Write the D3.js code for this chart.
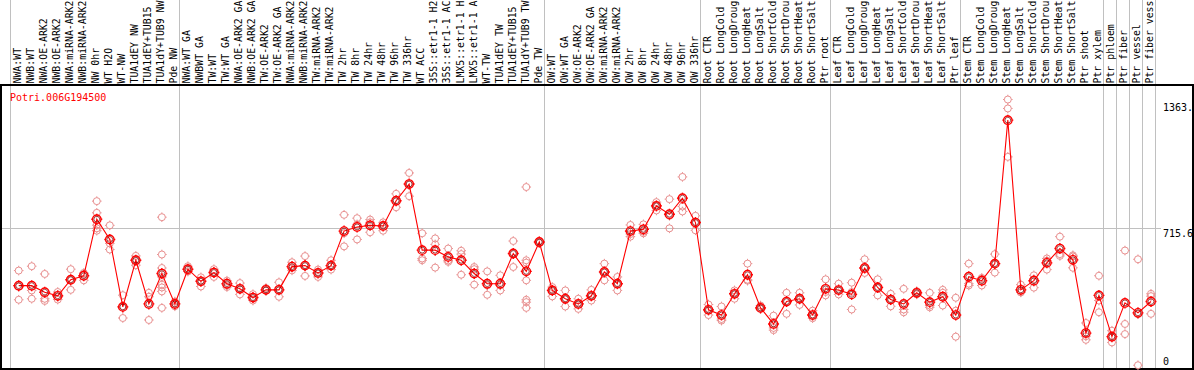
<!DOCTYPE html>
<html lang="en">
<head>
<meta charset="UTF-8">
<title>Potri.006G194500</title>
<script src="https://d3js.org/d3.v7.min.js"></script>
<style>
    body { margin: 0; background: #fff; }
    svg { display: block; }
    text { font-family: "DejaVu Sans Mono", monospace; font-size: 10px; }
    .lab { font-size: 9.85px; }
    .grid { stroke: #c0c0c0; stroke-width: 1px; shape-rendering: crispEdges; }
    .frame { fill: none; stroke: #000; stroke-width: 1.5px; shape-rendering: crispEdges; }
    .line { fill: none; stroke: #ff0000; stroke-width: 1.1px; }
    .rep { fill: none; stroke: #e89090; stroke-width: 1px; }
    .mean { fill: none; stroke: #ff0000; stroke-width: 1.4px; }
    .mean-in { fill: none; stroke: #7a0000; stroke-width: 0.7px; }
</style>
</head>
<body>
<div id="chart"></div>
<script>
// --- data ---
const samples = [
    "NWA:WT", "NWB:WT", "NWA:OE-ARK2", "NWB:OE-ARK2", "NWA:miRNA-ARK2", "NWB:miRNA-ARK2",
    "NW 0hr", "WT H2O", "WT-NW", "TUA1dEY NW", "TUA1dEY+TUB15", "TUA1dY+TUB9 NW", "Pde NW",
    "NWA:WT GA", "NWBWT GA", "TW:WT", "TW:WT GA", "NWA:OE-ARK2 GA", "NWB:OE-ARK2 GA",
    "TW:OE-ARK2", "TW:OE-ARK2 GA", "NWA:miRNA-ARK2", "NWB:miRNA-ARK2", "TW:miRNA-ARK2",
    "TW:miRNA-ARK2", "TW 2hr", "TW 8hr", "TW 24hr", "TW 48hr", "TW 96hr", "TW 336hr",
    "WT ACC", "35S::etr1-1 H2", "35S::etr1-1 AC", "LMX5::etr1-1 H", "LMX5::etr1-1 A",
    "WT-TW", "TUA1dEY TW", "TUA1dEY+TUB15", "TUA1dY+TUB9 TW", "Pde TW",
    "OW:WT", "OW:WT GA", "OW:OE-ARK2", "OW:OE-ARK2 GA", "OW:miRNA-ARK2", "OW:miRNA-ARK2",
    "OW 2hr", "OW 8hr", "OW 24hr", "OW 48hr", "OW 96hr", "OW 336hr",
    "Root CTR", "Root LongCold", "Root LongDroug", "Root LongHeat", "Root LongSalt",
    "Root ShortCold", "Root ShortDrou", "Root ShortHeat", "Root ShortSalt", "Ptr root",
    "Leaf CTR", "Leaf LongCold", "Leaf LongDroug", "Leaf LongHeat", "Leaf LongSalt",
    "Leaf ShortCold", "Leaf ShortDrou", "Leaf ShortHeat", "Leaf ShortSalt", "Ptr leaf",
    "Stem CTR", "Stem LongCold", "Stem LongDroug", "Stem LongHeat", "Stem LongSalt",
    "Stem ShortCold", "Stem ShortDrou", "Stem ShortHeat", "Stem ShortSalt", "Ptr shoot",
    "Ptr xylem", "Ptr phloem", "Ptr fiber", "Ptr vessel", "Ptr fiber vess"
];

const means = [
    425, 425, 392, 374, 455, 475, 760, 658, 318, 553, 333, 486, 333,
    508, 447, 491, 435, 409, 365, 404, 404, 521, 526, 489, 526, 700, 721, 729, 726, 853, 937,
    604, 604, 570, 553, 486, 435, 435, 587, 497, 645,
    401, 359, 333, 374, 494, 435, 700, 709, 827, 785, 866, 743,
    303, 277, 384, 480, 313, 232, 345, 359, 277, 409,
    403, 381, 514, 416, 355, 333, 389, 342, 369, 277,
    470, 450, 536, 1259, 404, 450, 540, 612, 555, 186, 376,
    168, 338, 288, 345
];

const replicates = [
    [501, 420, 354], [523, 401, 359], [484, 359, 348], [393, 369, 355], [508, 455, 404],
    [489, 484, 452], [851, 792, 730, 714, 702], [729, 638, 607], [377, 318, 262], [575, 553, 528],
    [389, 369, 252], [770, 582, 514, 469, 430, 416, 396, 313], [345, 333, 321],
    [523, 507, 496], [467, 447, 421], [508, 491, 469], [450, 426, 418], [438, 409, 381],
    [382, 365, 350], [413, 404, 399], [442, 404, 369], [543, 514, 502], [574, 526, 474],
    [506, 489, 469], [553, 526, 506], [782, 689, 623], [765, 734, 658], [758, 744, 694],
    [744, 726, 702], [888, 853, 820], [993, 937, 876], [689, 562, 553], [663, 633, 516],
    [612, 552, 545], [601, 584, 480], [519, 508, 430], [497, 426, 379], [477, 426, 401],
    [650, 587, 519], [922, 553, 541, 452, 354, 342, 313], [649, 645, 640],
    [418, 401, 371], [401, 359, 320], [359, 333, 308], [404, 374, 350], [536, 494, 452],
    [469, 435, 401], [731, 685, 672], [734, 697, 689], [846, 827, 804], [861, 777, 714],
    [973, 824, 799], [777, 743, 704],
    [330, 303, 277], [320, 257, 249], [401, 384, 359], [536, 455, 450], [325, 313, 308],
    [274, 212, 201], [389, 345, 283], [389, 359, 328], [299, 277, 261], [457, 393, 376],
    [435, 403, 381], [440, 393, 305], [558, 514, 489], [457, 416, 376], [384, 355, 321],
    [409, 305, 291], [397, 389, 381], [389, 325, 316], [404, 389, 325], [364, 299, 168],
    [536, 435, 426], [464, 460, 426], [584, 536, 491], [1363, 1318, 1074], [430, 393, 391],
    [477, 458, 415], [562, 551, 506], [672, 584, 575], [578, 572, 515], [237, 170, 152],
    [475, 350, 291], [198, 168, 139], [602, 232, 181], [558, 281, 24], [384, 372, 283]
];

// column index where each gray separator sits (before that column)
const groupBreaks = [0, 13, 41, 53, 63, 73, 84, 85, 86, 87, 88];
const geneId = "Potri.006G194500";
const maxValue = 1363;
const yTickLabels = ["1363.", "715.6", "0"];

// --- layout ---
const W = 1194, H = 370;
const plotTop = 85, plotBottom = 369, plotLeft = 1, plotRight = 1193;

const svg = d3.select("#chart").append("svg").attr("width", W).attr("height", H);

const x = d3.scaleBand().domain(d3.range(samples.length)).range([10, 1155.3]).padding(0);
const yTop = maxValue * 1.05;
const y = d3.scaleLinear().domain([0, yTop]).range([370, 86]);
const px = i => x(i) + 8.7;

// vertical separators
svg.selectAll(".vsep").data(groupBreaks).join("line")
    .attr("class", "grid")
    .attr("x1", b => Math.round(b < samples.length ? x(b) : x.range()[1]) + 0.5)
    .attr("x2", b => Math.round(b < samples.length ? x(b) : x.range()[1]) + 0.5)
    .attr("y1", 0).attr("y2", plotBottom);

// mid line
svg.append("line").attr("class", "grid")
    .attr("x1", plotLeft).attr("x2", 1161)
    .attr("y1", Math.round(y(yTop / 2)) + 0.5).attr("y2", Math.round(y(yTop / 2)) + 0.5);

// frame
svg.append("rect").attr("class", "frame")
    .attr("x", plotLeft).attr("y", plotTop)
    .attr("width", plotRight - plotLeft).attr("height", plotBottom - plotTop);

// sample labels
svg.selectAll(".lab").data(samples).join("text")
    .attr("class", "lab")
    .attr("transform", (d, i) => `translate(${x(i) + 11},83.5) rotate(-90)`)
    .attr("text-anchor", "start")
    .attr("fill", "#000")
    .text(d => d);

// y labels on the right
const yVals = [maxValue, yTop / 2, 0];
svg.selectAll(".ylab").data(yVals).join("text")
    .attr("x", 1163)
    .attr("y", (d, i) => i === 2 ? y(d) - 5 : y(d) + (i === 0 ? 11 : 9))
    .attr("fill", "#000")
    .text((d, i) => yTickLabels[i]);

// gene id
svg.append("text").attr("x", 10).attr("y", 101).attr("fill", "#ff0000").text(geneId);

// marker helper: circle with little ticks at four sides
function marker(g, cx, cy, r, cls) {
    g.append("circle").attr("class", cls).attr("cx", cx).attr("cy", cy).attr("r", r);
    const t = 1.3;
    [[0, -1], [0, 1], [-1, 0], [1, 0]].forEach(([dx, dy]) => {
        g.append("line").attr("class", cls)
            .attr("x1", cx + dx * r).attr("y1", cy + dy * r)
            .attr("x2", cx + dx * (r + t)).attr("y2", cy + dy * (r + t));
    });
}

// replicates
const repG = svg.append("g");
replicates.forEach((arr, i) => arr.forEach(v => marker(repG, px(i), y(v), 3.5, "rep")));

// mean line
svg.append("path").datum(means).attr("class", "line")
    .attr("d", d3.line().x((d, i) => px(i)).y(d => y(d)));

// mean markers
const meanG = svg.append("g");
means.forEach((v, i) => {
    marker(meanG, px(i), y(v), 4.2, "mean");
    meanG.append("circle").attr("class", "mean-in").attr("cx", px(i)).attr("cy", y(v)).attr("r", 2.9);
});
</script>
</body>
</html>
